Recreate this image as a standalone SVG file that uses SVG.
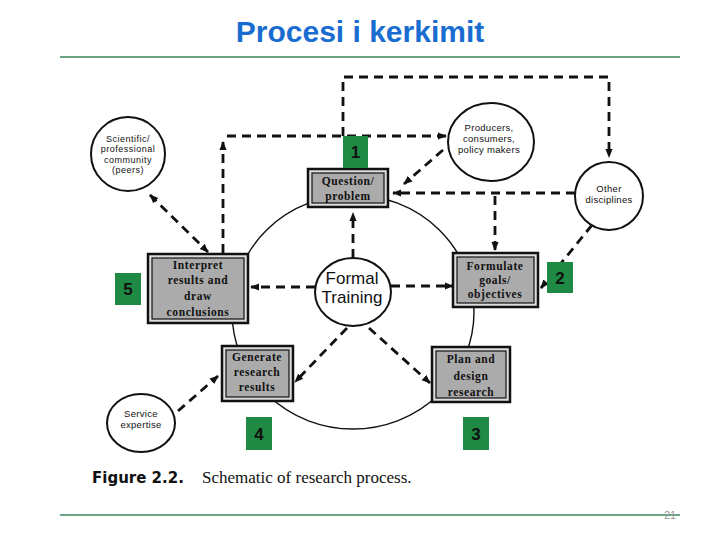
<svg xmlns="http://www.w3.org/2000/svg" width="720" height="540" viewBox="0 0 720 540">
<style>
.title{font-family:"Liberation Sans","Noto Sans",sans-serif;font-weight:bold;font-size:30px;fill:#1a6dd0}
.rule{stroke:#3a8a5c;stroke-width:1.3;fill:none}
.circ{fill:#fff;stroke:#111;stroke-width:2}
.ctext{font-family:"Liberation Sans","DejaVu Sans",sans-serif;font-size:9.5px;fill:#111;text-anchor:middle;letter-spacing:0.3px}
.stext{font-family:"Liberation Sans","DejaVu Sans",sans-serif;font-size:9px;fill:#111;text-anchor:middle;letter-spacing:0.5px}
.ftext{font-family:"Liberation Sans","DejaVu Sans",sans-serif;font-size:17px;fill:#111;text-anchor:middle}
.outer{fill:#dcdcdc;stroke:#111;stroke-width:2.5}
.inner{fill:#ababab;stroke:#111;stroke-width:1.2}
.btext{font-family:"Liberation Serif","DejaVu Serif",serif;font-weight:bold;font-size:11.5px;fill:#111;text-anchor:middle;letter-spacing:0.6px}
.dash{fill:none;stroke:#111;stroke-width:2.8;stroke-dasharray:9 6}
.thin{fill:none;stroke:#111;stroke-width:1.4}
.green{fill:#1e8a43}
.num{font-family:"Liberation Sans","DejaVu Sans",sans-serif;font-weight:bold;font-size:17px;fill:#111;text-anchor:middle}
</style>
<defs>
<marker id="ah" viewBox="0 0 10 10" refX="9" refY="5" markerWidth="9" markerHeight="9" markerUnits="userSpaceOnUse" orient="auto-start-reverse">
<path d="M0,1 L10,5 L0,9 z" fill="#111"/>
</marker>
</defs>
<rect width="720" height="540" fill="#fff"/>
<text class="title" x="360" y="42" text-anchor="middle">Procesi i kerkimit</text>
<line class="rule" x1="60" y1="57" x2="680" y2="57"/>
<line class="rule" x1="60" y1="515" x2="680" y2="515"/>
<text x="664" y="519" font-family="Liberation Sans, sans-serif" font-size="11" fill="#9a9a9a">21</text>

<!-- cycle -->
<ellipse class="thin" cx="353" cy="312" rx="121" ry="117"/>

<g id="connectors">
<path class="dash" d="M343,136 V77 H609 V157" marker-end="url(#ah)"/>
<path class="dash" d="M223,253 V142" marker-end="url(#ah)"/>
<path class="dash" d="M227,136 H446" marker-end="url(#ah)"/>
<path class="dash" d="M575,193 H393" marker-end="url(#ah)"/>
<path class="dash" d="M495,196 V250" marker-end="url(#ah)"/>
<path class="dash" d="M443,150 L404,184" marker-end="url(#ah)"/>
<path class="dash" d="M592,225 L541,288" marker-end="url(#ah)"/>
<path class="dash" d="M150,195 L208,252" marker-start="url(#ah)" marker-end="url(#ah)"/>
<path class="dash" d="M178,411 L218,376" marker-end="url(#ah)"/>
<path class="dash" d="M353,258 V213" marker-end="url(#ah)"/>
<path class="dash" d="M315,287 H251" marker-end="url(#ah)"/>
<path class="dash" d="M391,286 H453" marker-end="url(#ah)"/>
<path class="dash" d="M347,328 L295,382" marker-end="url(#ah)"/>
<path class="dash" d="M369,328 L430,383" marker-end="url(#ah)"/>
</g>

<g id="scientific">
<ellipse class="circ" cx="128" cy="154" rx="37" ry="37"/>
<text class="stext" x="128" y="142">Scientific/</text>
<text class="stext" x="128" y="152.3">professional</text>
<text class="stext" x="128" y="162.6">community</text>
<text class="stext" x="128" y="172.9">(peers)</text>
</g>
<g id="producers">
<ellipse class="circ" cx="491" cy="142" rx="43" ry="39"/>
<text class="ctext" x="489" y="131">Producers,</text>
<text class="ctext" x="489" y="142">consumers,</text>
<text class="ctext" x="489" y="153">policy makers</text>
</g>
<g id="other">
<ellipse class="circ" cx="609" cy="196" rx="34" ry="34"/>
<text class="ctext" x="609" y="192">Other</text>
<text class="ctext" x="609" y="203">disciplines</text>
</g>
<g id="service">
<ellipse class="circ" cx="141" cy="423" rx="34" ry="29"/>
<text class="ctext" x="141" y="417">Service</text>
<text class="ctext" x="141" y="428">expertise</text>
</g>
<g id="formal">
<ellipse class="circ" cx="353" cy="292" rx="38" ry="34"/>
<text class="ftext" x="352" y="284">Formal</text>
<text class="ftext" x="352" y="303">Training</text>
</g>

<g id="question">
<rect class="outer" x="308" y="169" width="80" height="38"/>
<rect class="inner" x="312" y="173" width="72" height="30"/>
<text class="btext" x="348" y="185">Question/</text>
<text class="btext" x="348" y="200">problem</text>
</g>
<g id="formulate">
<rect class="outer" x="453" y="253" width="85" height="54"/>
<rect class="inner" x="457" y="257" width="77" height="46"/>
<text class="btext" x="495" y="270">Formulate</text>
<text class="btext" x="495" y="284">goals/</text>
<text class="btext" x="495" y="298">objectives</text>
</g>
<g id="plan">
<rect class="outer" x="432" y="347" width="78" height="55"/>
<rect class="inner" x="436" y="351" width="70" height="47"/>
<text class="btext" x="471" y="363">Plan and</text>
<text class="btext" x="471" y="380">design</text>
<text class="btext" x="471" y="396">research</text>
</g>
<g id="generate">
<rect class="outer" x="222" y="346" width="71" height="55"/>
<rect class="inner" x="226" y="350" width="63" height="47"/>
<text class="btext" x="257" y="361">Generate</text>
<text class="btext" x="257" y="376">research</text>
<text class="btext" x="257" y="391">results</text>
</g>
<g id="interpret">
<rect class="outer" x="148" y="254" width="100" height="69"/>
<rect class="inner" x="152" y="258" width="92" height="61"/>
<text class="btext" x="198" y="269">Interpret</text>
<text class="btext" x="198" y="284">results and</text>
<text class="btext" x="198" y="300">draw</text>
<text class="btext" x="198" y="316">conclusions</text>
</g>

<g id="label1"><rect class="green" x="343" y="136" width="25" height="32"/><text class="num" x="355.5" y="158">1</text></g>
<g id="label2"><rect class="green" x="547" y="262" width="26" height="31"/><text class="num" x="560" y="284">2</text></g>
<g id="label3"><rect class="green" x="463" y="417" width="26" height="33"/><text class="num" x="476" y="440">3</text></g>
<g id="label4"><rect class="green" x="246" y="417" width="26" height="33"/><text class="num" x="259" y="440">4</text></g>
<g id="label5"><rect class="green" x="115" y="273" width="26" height="32"/><text class="num" x="128" y="295">5</text></g>

<text x="92" y="483" font-family="DejaVu Sans, sans-serif" font-weight="bold" font-size="15" fill="#111">Figure 2.2.</text>
<text x="202" y="483" font-family="Liberation Serif, serif" font-size="17" fill="#111">Schematic of research process.</text>
</svg>
